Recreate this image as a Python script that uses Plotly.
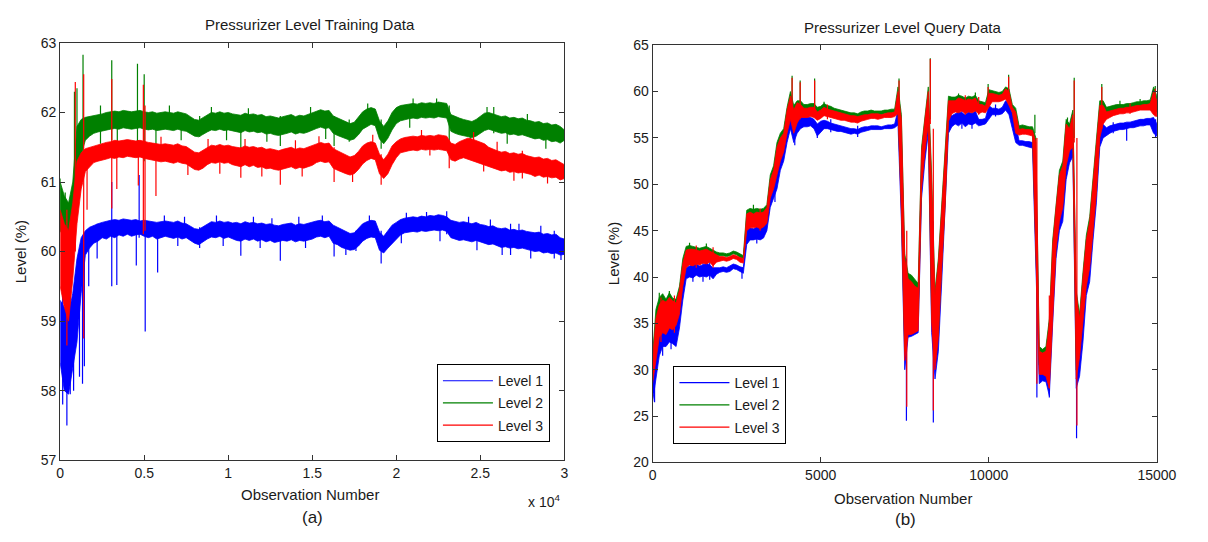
import plotly.graph_objects as go

# ---------------- data: (a) training data, envelope of each level every 250 observations -------------
train_obs = list(range(0, 30001, 250))

L1_lo = [58.40, 58.00, 57.95, 58.30, 58.70, 59.40, 59.95, 60.05, 60.12, 60.15,
         60.20, 60.18, 60.22, 60.20, 60.24, 60.22, 60.25, 60.22, 60.24, 60.25,
         60.22, 60.20, 60.22, 60.18, 60.20, 60.22, 60.20, 60.19, 60.21, 60.18,
         60.20, 60.16, 60.12, 60.10, 60.14, 60.18, 60.21, 60.20, 60.22, 60.19,
         60.21, 60.18, 60.16, 60.15, 60.18, 60.16, 60.18, 60.15, 60.17, 60.14,
         60.16, 60.13, 60.14, 60.16, 60.15, 60.17, 60.14, 60.16, 60.15, 60.17,
         60.18, 60.21, 60.22, 60.20, 60.22, 60.12, 60.10, 60.06, 60.04, 60.02,
         60.03, 60.08, 60.15, 60.19, 60.21, 60.20, 60.02, 59.98, 60.05, 60.12,
         60.18, 60.24, 60.27, 60.28, 60.29, 60.28, 60.30, 60.29, 60.30, 60.31,
         60.30, 60.31, 60.29, 60.20, 60.18, 60.16, 60.17, 60.15, 60.14, 60.16,
         60.13, 60.12, 60.10, 60.11, 60.08, 60.06, 60.07, 60.05, 60.06, 60.04,
         60.05, 60.03, 60.02, 60.00, 60.01, 59.98, 59.99, 59.97, 59.98, 59.95,
         59.96]
L1_hi = [59.30, 59.20, 59.10, 59.40, 59.90, 60.20, 60.30, 60.35, 60.38, 60.40,
         60.42, 60.44, 60.45, 60.46, 60.45, 60.47, 60.46, 60.45, 60.46, 60.44,
         60.45, 60.44, 60.43, 60.42, 60.43, 60.44, 60.43, 60.42, 60.44, 60.41,
         60.40, 60.36, 60.33, 60.32, 60.36, 60.40, 60.43, 60.42, 60.44, 60.42,
         60.43, 60.41, 60.42, 60.40, 60.43, 60.41, 60.42, 60.40, 60.41, 60.39,
         60.40, 60.38, 60.37, 60.39, 60.40, 60.41, 60.38, 60.40, 60.39, 60.41,
         60.42, 60.44, 60.45, 60.43, 60.44, 60.38, 60.35, 60.32, 60.28, 60.26,
         60.27, 60.33, 60.40, 60.43, 60.45, 60.44, 60.28, 60.22, 60.30, 60.38,
         60.42, 60.46, 60.48, 60.49, 60.50, 60.49, 60.51, 60.50, 60.52, 60.51,
         60.53, 60.52, 60.50, 60.45, 60.44, 60.42, 60.43, 60.41, 60.40, 60.42,
         60.39, 60.38, 60.36, 60.37, 60.34, 60.33, 60.34, 60.31, 60.32, 60.30,
         60.31, 60.29, 60.28, 60.27, 60.28, 60.25, 60.26, 60.24, 60.25, 60.20,
         60.18]
L2_lo = [60.30, 60.20, 60.20, 60.40, 60.90, 61.40, 61.60, 61.66, 61.70, 61.72,
         61.73, 61.75, 61.76, 61.77, 61.76, 61.78, 61.77, 61.76, 61.77, 61.78,
         61.76, 61.75, 61.76, 61.74, 61.75, 61.76, 61.75, 61.74, 61.76, 61.74,
         61.73, 61.70, 61.66, 61.65, 61.68, 61.72, 61.75, 61.74, 61.76, 61.74,
         61.75, 61.73, 61.72, 61.71, 61.74, 61.72, 61.73, 61.71, 61.72, 61.69,
         61.70, 61.68, 61.67, 61.69, 61.70, 61.72, 61.69, 61.71, 61.70, 61.72,
         61.74, 61.77, 61.79, 61.77, 61.78, 61.70, 61.67, 61.64, 61.62, 61.60,
         61.62, 61.68, 61.76, 61.80, 61.83, 61.81, 61.62, 61.55, 61.63, 61.75,
         61.84, 61.88, 61.90, 61.91, 61.92, 61.91, 61.93, 61.92, 61.93, 61.92,
         61.94, 61.93, 61.92, 61.73, 61.70, 61.68, 61.67, 61.65, 61.64, 61.66,
         61.70, 61.74, 61.76, 61.74, 61.72, 61.70, 61.71, 61.68, 61.69, 61.67,
         61.68, 61.65, 61.64, 61.62, 61.63, 61.60, 61.61, 61.58, 61.59, 61.56,
         61.60]
L2_hi = [61.00, 60.80, 60.70, 61.00, 61.80, 61.90, 61.93, 61.94, 61.96, 61.97,
         61.98, 62.00, 62.01, 62.02, 62.01, 62.03, 62.02, 62.01, 62.02, 62.03,
         62.01, 62.00, 62.01, 61.99, 62.00, 62.01, 62.00, 61.99, 62.01, 61.99,
         61.98, 61.94, 61.90, 61.89, 61.93, 61.97, 62.00, 61.99, 62.01, 61.99,
         62.00, 61.98, 61.97, 61.96, 61.99, 61.97, 61.98, 61.96, 61.97, 61.94,
         61.95, 61.93, 61.92, 61.94, 61.95, 61.97, 61.94, 61.96, 61.95, 61.97,
         61.99, 62.02, 62.04, 62.02, 62.03, 61.95, 61.92, 61.89, 61.86, 61.84,
         61.86, 61.93, 62.01, 62.05, 62.07, 62.05, 61.88, 61.80, 61.88, 62.00,
         62.07, 62.10, 62.11, 62.12, 62.13, 62.12, 62.14, 62.13, 62.14, 62.13,
         62.15, 62.14, 62.13, 61.97, 61.94, 61.92, 61.90, 61.88, 61.87, 61.90,
         61.95, 61.99, 62.00, 61.98, 61.96, 61.94, 61.95, 61.92, 61.93, 61.91,
         61.92, 61.89, 61.88, 61.86, 61.87, 61.84, 61.85, 61.82, 61.83, 61.80,
         61.75]
L3_lo = [59.50, 59.20, 59.00, 59.60, 60.40, 60.90, 61.15, 61.22, 61.28, 61.30,
         61.32, 61.33, 61.35, 61.34, 61.36, 61.35, 61.37, 61.36, 61.35, 61.36,
         61.34, 61.33, 61.32, 61.30, 61.29, 61.30, 61.28, 61.27, 61.29, 61.27,
         61.26, 61.22, 61.18, 61.17, 61.20, 61.25, 61.28, 61.27, 61.29, 61.27,
         61.28, 61.25, 61.23, 61.22, 61.25, 61.22, 61.24, 61.21, 61.22, 61.19,
         61.20, 61.18, 61.17, 61.19, 61.20, 61.22, 61.19, 61.21, 61.20, 61.22,
         61.24, 61.28, 61.30, 61.28, 61.29, 61.20, 61.17, 61.14, 61.12, 61.10,
         61.12, 61.18, 61.26, 61.31, 61.34, 61.32, 61.12, 61.05, 61.12, 61.25,
         61.35, 61.42, 61.44, 61.45, 61.46, 61.45, 61.47, 61.46, 61.47, 61.46,
         61.47, 61.46, 61.45, 61.32, 61.30, 61.33, 61.35, 61.33, 61.30, 61.28,
         61.27, 61.25, 61.22, 61.20, 61.18, 61.16, 61.17, 61.14, 61.15, 61.13,
         61.14, 61.12, 61.11, 61.08, 61.10, 61.07, 61.08, 61.06, 61.07, 61.03,
         61.05]
L3_hi = [60.60, 60.40, 60.30, 60.70, 61.30, 61.42, 61.48, 61.50, 61.52, 61.54,
         61.55, 61.57, 61.58, 61.60, 61.59, 61.60, 61.61, 61.60, 61.59, 61.60,
         61.58, 61.57, 61.56, 61.55, 61.54, 61.55, 61.54, 61.53, 61.55, 61.52,
         61.51, 61.47, 61.43, 61.42, 61.46, 61.50, 61.53, 61.52, 61.54, 61.52,
         61.53, 61.51, 61.50, 61.49, 61.52, 61.50, 61.51, 61.49, 61.50, 61.47,
         61.48, 61.46, 61.45, 61.47, 61.48, 61.50, 61.47, 61.49, 61.48, 61.50,
         61.52, 61.55, 61.57, 61.55, 61.56, 61.48, 61.45, 61.42, 61.38, 61.36,
         61.38, 61.44, 61.52, 61.56, 61.58, 61.56, 61.40, 61.32, 61.40, 61.52,
         61.58, 61.62, 61.64, 61.65, 61.66, 61.65, 61.67, 61.66, 61.67, 61.66,
         61.68, 61.67, 61.66, 61.56, 61.54, 61.58, 61.61, 61.63, 61.62, 61.60,
         61.58, 61.55, 61.50, 61.47, 61.45, 61.43, 61.44, 61.41, 61.42, 61.40,
         61.41, 61.38, 61.37, 61.35, 61.36, 61.33, 61.34, 61.31, 61.32, 61.28,
         61.25]

# isolated spikes in the training data: observation, low, high
L1_spk_obs = [150, 400, 600, 800, 1150, 1330, 1440, 1700, 2200, 3070, 3370, 4530, 4700, 5060, 5800,
              8300, 10750, 13100, 16300, 17600, 19100, 23000, 26800, 29400,
              6200, 7400, 9300, 11500, 12600, 14200, 15600, 18400, 20600, 21800, 24300, 25600, 27300, 28600,
              7000, 9700, 11900, 14600, 17000, 20300, 22600, 24800, 26300, 28000, 29800]
L1_spk_lo = [57.8, 57.5, 57.95, 58.0, 58.2, 58.1, 58.35, 59.5, 59.9, 59.5, 59.52, 59.8, 60.2, 58.85, 59.7,
             60.05, 59.94, 59.87, 59.93, 60.01, 59.83, 60.25, 59.95, 59.9,
             60.30, 60.30, 60.30, 60.30, 60.25, 60.30, 60.30, 60.30, 60.35, 60.35, 60.30, 60.25, 60.20, 60.15,
             60.08, 60.08, 60.05, 60.05, 59.95, 60.12, 60.15, 60.02, 59.95, 59.90, 59.88]
L1_spk_hi = [59.4, 59.0, 59.6, 59.3, 60.0, 60.1, 60.2, 60.3, 60.4, 61.0, 60.4, 60.4, 61.1, 60.4, 60.4,
             60.35, 60.4, 60.35, 60.35, 60.3, 60.3, 60.58, 60.4, 60.3,
             60.52, 60.50, 60.52, 60.50, 60.48, 60.50, 60.52, 60.52, 60.56, 60.57, 60.50, 60.46, 60.40, 60.37,
             60.30, 60.30, 60.30, 60.30, 60.20, 60.35, 60.40, 60.30, 60.20, 60.15, 60.10]
L2_spk_obs = [0, 300, 850, 1000, 1360, 2400, 3070, 3400, 4600, 5000, 5700, 8300, 10750, 13100, 16300,
              17200, 19100, 23150, 25800,
              6500, 9000, 11200, 14900, 18300, 21000, 22400, 25400, 27800,
              7200, 9900, 12300, 15800, 20800, 24400, 26600, 28900]
L2_spk_lo = [60.3, 60.2, 60.9, 61.0, 61.3, 61.55, 61.6, 61.5, 61.5, 61.3, 61.45, 61.65, 61.48, 61.52, 61.52,
             61.58, 61.48, 61.6, 61.7,
             61.90, 61.90, 61.90, 61.90, 61.95, 62.00, 62.00, 61.90, 61.80,
             61.60, 61.60, 61.58, 61.62, 61.78, 61.55, 61.55, 61.48]
L2_spk_hi = [61.05, 60.85, 62.3, 62.35, 62.83, 62.1, 62.75, 61.95, 62.7, 62.55, 61.95, 61.95, 61.95, 61.95, 61.95,
             61.9, 61.9, 62.1, 62.08,
             62.10, 62.08, 62.06, 62.08, 62.13, 62.20, 62.20, 62.08, 61.98,
             61.85, 61.85, 61.80, 61.85, 62.00, 61.75, 61.78, 61.70]
L3_spk_obs = [400, 900, 1400, 1600, 3070, 3370, 4650, 4950, 5050, 5700, 10750, 13100, 16300, 19100, 23150, 27500,
              6000, 8800, 11000, 14000, 15400, 18600, 21500, 24600, 26000,
              7600, 9500, 12000, 14400, 17400, 22000, 25200, 27000, 29000]
L3_spk_lo = [58.65, 60.0, 58.75, 60.6, 60.62, 60.9, 60.95, 60.25, 60.3, 60.8, 61.06, 60.96, 61.0, 60.96, 61.2, 61.05,
             61.45, 61.45, 61.45, 61.42, 61.48, 61.50, 61.60, 61.55, 61.40,
             61.10, 61.12, 61.08, 61.08, 61.00, 61.38, 61.15, 61.02, 60.98]
L3_spk_hi = [60.6, 62.44, 62.55, 61.45, 62.48, 61.5, 61.6, 62.4, 62.1, 61.5, 61.5, 61.45, 61.5, 61.4, 61.6, 61.45,
             61.65, 61.62, 61.62, 61.60, 61.66, 61.68, 61.75, 61.72, 61.58,
             61.35, 61.35, 61.30, 61.30, 61.20, 61.55, 61.35, 61.25, 61.20]

# ---------------- data: (b) query data, envelope of each level every 100 observations -------------
query_obs = list(range(0, 15001, 100))

Q1_lo = [26.5, 29.0, 31.5, 32.5, 32.5, 33.0, 32.8, 32.5, 34.5, 37.5,
         39.8, 40.0, 39.9, 40.2, 40.0, 40.1, 40.0, 40.2, 39.8, 40.3,
         40.5, 40.6, 40.5, 40.6, 40.9, 40.8, 40.6, 40.4, 43.5, 44.0,
         44.0, 44.1, 44.0, 44.2, 45.0, 47.5, 48.5, 49.5, 51.5, 52.5,
         54.5, 56.0, 54.5, 55.5, 56.0, 56.2, 56.2, 56.3, 56.0, 55.2,
         55.6, 56.0, 56.0, 55.9, 55.8, 55.7, 55.7, 55.6, 55.5, 55.4,
         55.5, 55.4, 55.6, 55.7, 55.8, 55.9, 55.9, 55.9, 55.9, 56.0,
         56.0, 56.0, 56.1, 56.4, 46.0, 30.0, 33.5, 33.6, 33.8, 34.0,
         48.5, 52.5, 55.5, 34.0, 29.0, 32.0, 39.5, 46.5, 55.5, 56.2,
         56.5, 56.3, 56.6, 56.2, 56.5, 56.4, 56.6, 56.3, 56.4, 56.5,
         57.0, 57.5, 57.5, 57.5, 57.6, 58.0, 57.5, 56.0, 54.5, 54.2,
         54.2, 54.1, 54.0, 53.9, 40.0, 28.5, 28.8, 28.7, 27.2, 35.0,
         42.0, 45.0, 46.0, 50.5, 52.3, 53.0, 28.0, 29.3, 33.0, 38.0,
         39.5, 44.0, 48.0, 54.0, 55.0, 55.2, 55.5, 55.7, 55.8, 55.9,
         55.9, 56.0, 56.1, 56.1, 56.2, 56.3, 56.3, 56.4, 56.4, 55.5,
         55.2]
Q1_hi = [29.5, 33.0, 34.5, 35.0, 35.3, 35.5, 35.6, 35.0, 37.0, 40.0,
         41.0, 41.2, 41.3, 41.4, 41.2, 41.3, 41.5, 41.3, 41.0, 41.0,
         41.0, 41.1, 41.0, 41.2, 41.4, 41.3, 41.1, 41.0, 45.2, 45.3,
         45.2, 45.4, 45.3, 45.4, 46.5, 49.5, 50.2, 52.0, 53.5, 54.5,
         56.5, 57.5, 56.5, 57.0, 57.2, 57.2, 57.2, 57.2, 57.0, 56.5,
         56.8, 56.9, 56.8, 56.6, 56.5, 56.4, 56.3, 56.2, 56.1, 56.0,
         56.0, 55.9, 56.1, 56.2, 56.2, 56.3, 56.3, 56.3, 56.2, 56.3,
         56.4, 56.4, 56.5, 58.0, 55.0, 41.0, 35.8, 35.5, 35.6, 36.0,
         52.5, 55.5, 58.5, 46.0, 34.0, 40.0, 45.5, 52.0, 57.5, 57.4,
         57.6, 57.8, 57.7, 57.5, 57.8, 57.6, 57.9, 57.0, 57.0, 57.1,
         58.5, 58.2, 58.2, 58.1, 58.3, 59.0, 58.8, 57.5, 56.5, 54.7,
         54.7, 54.6, 54.6, 54.5, 52.0, 30.5, 30.2, 30.3, 33.0, 42.0,
         46.0, 49.0, 50.5, 54.5, 55.0, 56.0, 36.0, 33.5, 38.0, 42.0,
         44.5, 48.0, 52.0, 56.8, 56.5, 56.1, 56.3, 56.4, 56.5, 56.6,
         56.6, 56.7, 56.7, 56.8, 56.9, 57.0, 57.0, 57.1, 57.1, 57.2,
         56.5]
Q2_lo = [29.0, 32.0, 34.5, 35.0, 35.0, 35.5, 35.2, 35.5, 36.8, 39.5,
         41.8, 42.0, 42.0, 42.2, 42.1, 42.2, 42.3, 42.3, 42.2, 42.3,
         42.3, 42.3, 42.2, 42.3, 42.5, 42.4, 42.1, 42.0, 45.5, 45.8,
         45.8, 45.9, 45.8, 45.9, 46.2, 49.0, 50.0, 51.5, 53.0, 54.0,
         56.0, 57.5, 56.0, 57.0, 57.6, 57.9, 57.9, 58.0, 57.8, 57.5,
         57.7, 57.9, 57.8, 57.7, 57.6, 57.5, 57.4, 57.3, 57.3, 57.2,
         57.2, 57.1, 57.3, 57.4, 57.4, 57.5, 57.5, 57.5, 57.5, 57.6,
         57.6, 57.6, 57.7, 58.0, 48.0, 32.0, 35.5, 35.5, 36.0, 35.8,
         50.0, 54.0, 57.0, 36.0, 31.0, 34.0, 41.5, 48.0, 57.3, 58.0,
         58.2, 58.1, 58.3, 58.0, 58.2, 58.1, 58.3, 58.0, 58.2, 58.1,
         58.6, 59.2, 59.2, 59.2, 59.3, 59.5, 58.8, 58.0, 56.0, 55.8,
         55.8, 55.8, 55.7, 55.6, 43.0, 30.5, 30.8, 31.0, 29.0, 37.0,
         43.5, 46.5, 48.0, 52.5, 54.0, 54.5, 30.0, 32.0, 35.5, 39.5,
         41.5, 45.5, 49.5, 55.5, 57.0, 57.4, 57.6, 57.8, 57.9, 58.0,
         58.0, 58.1, 58.1, 58.2, 58.3, 58.4, 58.4, 58.4, 58.5, 58.0,
         57.8]
Q2_hi = [31.5, 36.5, 37.8, 38.2, 37.6, 38.3, 37.7, 37.6, 39.0, 42.0,
         43.3, 43.4, 43.3, 43.2, 43.1, 43.2, 43.3, 43.1, 42.9, 42.7,
         42.6, 42.6, 42.5, 42.6, 42.8, 42.7, 42.5, 42.3, 47.2, 47.4,
         47.3, 47.4, 47.3, 47.4, 47.8, 51.0, 52.0, 54.5, 55.5, 56.0,
         58.3, 60.0, 58.5, 59.0, 59.0, 58.6, 58.6, 58.7, 58.7, 58.3,
         58.4, 58.7, 58.5, 58.4, 58.2, 58.1, 58.0, 57.9, 57.8, 57.7,
         57.7, 57.6, 57.8, 57.9, 57.9, 58.0, 57.9, 57.9, 57.9, 58.0,
         58.0, 58.1, 58.1, 60.5, 57.5, 42.5, 40.4, 40.2, 39.8, 39.3,
         54.0, 57.5, 60.5, 51.0, 38.5, 42.0, 47.5, 53.5, 59.5, 59.4,
         59.4, 59.6, 59.5, 59.3, 59.5, 59.4, 59.6, 59.0, 58.9, 58.8,
         60.2, 60.1, 60.0, 59.9, 60.0, 60.5, 60.3, 58.6, 58.2, 56.3,
         56.4, 56.3, 56.2, 56.2, 55.0, 32.5, 32.2, 32.5, 35.5, 44.0,
         48.0, 51.5, 52.5, 57.0, 56.5, 58.0, 38.5, 36.0, 40.5, 44.5,
         46.5, 50.5, 54.5, 59.0, 59.0, 58.3, 58.4, 58.5, 58.6, 58.6,
         58.6, 58.7, 58.7, 58.8, 58.9, 58.9, 59.0, 59.0, 59.1, 60.5,
         59.5]
Q3_lo = [28.5, 31.0, 33.5, 34.0, 33.8, 34.5, 34.3, 34.8, 36.0, 39.0,
         41.0, 41.3, 41.2, 41.4, 41.3, 41.5, 41.4, 41.6, 41.2, 41.6,
         41.7, 41.8, 41.7, 41.8, 42.0, 41.9, 41.6, 41.5, 45.0, 45.3,
         45.3, 45.4, 45.2, 45.4, 45.8, 48.5, 49.5, 51.0, 52.5, 53.5,
         55.5, 57.0, 55.5, 56.6, 57.2, 57.2, 57.2, 57.3, 57.2, 56.9,
         57.1, 57.4, 57.3, 57.2, 57.1, 57.0, 56.9, 56.9, 56.8, 56.7,
         56.7, 56.6, 56.8, 56.9, 57.0, 57.1, 57.1, 57.0, 57.1, 57.2,
         57.2, 57.2, 57.3, 57.6, 47.0, 31.0, 33.8, 33.8, 34.0, 34.2,
         49.5, 53.5, 56.5, 35.0, 30.0, 33.5, 41.0, 47.5, 56.8, 57.6,
         57.8, 57.7, 57.9, 57.6, 57.8, 57.7, 57.9, 57.6, 57.8, 57.7,
         58.3, 58.9, 58.9, 58.9, 59.0, 59.2, 58.5, 57.7, 55.5, 55.3,
         55.4, 55.4, 55.3, 55.2, 42.0, 29.5, 29.5, 29.3, 28.0, 36.0,
         43.0, 46.0, 47.5, 52.0, 53.6, 54.0, 29.0, 31.4, 35.0, 39.0,
         41.0, 45.0, 49.0, 55.0, 56.5, 57.0, 57.2, 57.4, 57.5, 57.6,
         57.6, 57.7, 57.7, 57.8, 57.9, 58.0, 58.0, 58.0, 58.0, 57.5,
         57.3]
Q3_hi = [31.0, 35.5, 37.0, 37.5, 37.3, 37.8, 37.4, 37.2, 38.6, 41.5,
         42.9, 43.0, 43.0, 42.9, 42.8, 42.9, 43.0, 42.8, 42.6, 42.4,
         42.2, 42.2, 42.1, 42.2, 42.4, 42.3, 42.1, 42.0, 46.8, 47.0,
         46.8, 47.0, 46.9, 47.0, 47.5, 50.5, 51.5, 54.0, 55.0, 55.5,
         58.0, 59.5, 58.0, 58.8, 58.6, 58.2, 58.2, 58.3, 58.3, 57.8,
         58.0, 58.3, 58.1, 58.0, 57.9, 57.8, 57.7, 57.6, 57.5, 57.4,
         57.4, 57.3, 57.4, 57.5, 57.5, 57.6, 57.6, 57.6, 57.5, 57.6,
         57.7, 57.7, 57.8, 60.0, 57.0, 42.0, 39.8, 39.5, 39.0, 38.8,
         53.5, 57.0, 60.0, 50.0, 38.0, 41.5, 47.0, 53.0, 59.0, 59.0,
         59.0, 59.3, 59.2, 59.0, 59.2, 59.1, 59.3, 58.6, 58.6, 58.4,
         59.8, 59.8, 59.7, 59.6, 59.7, 60.3, 60.0, 58.3, 57.8, 55.9,
         56.0, 55.9, 55.9, 55.8, 54.5, 32.0, 31.8, 32.0, 35.0, 43.5,
         47.5, 51.0, 52.0, 56.5, 56.0, 57.5, 38.0, 35.5, 40.0, 44.0,
         46.0, 50.0, 54.0, 58.5, 58.5, 57.8, 57.9, 58.0, 58.1, 58.2,
         58.2, 58.3, 58.3, 58.4, 58.5, 58.5, 58.6, 58.6, 58.7, 60.0,
         59.0]

# isolated spikes in the query data: observation, low, high
Q1_spk_obs = [60, 1500, 2660, 3640, 4230, 4900, 7550, 8350, 11430, 11800, 12610, 14100, 14960,
              300, 550, 1200, 1700, 3100, 5300, 6100, 9200, 9500, 10200, 13700]
Q1_spk_lo = [26.5, 39.5, 39.8, 48.1, 54.2, 55.0, 24.5, 24.3, 27.0, 27.0, 22.6, 54.7, 55.1,
             31.5, 32.2, 39.5, 39.7, 43.6, 55.6, 55.1, 56.0, 56.0, 57.3, 55.5]
Q1_spk_hi = [31.0, 41.5, 41.0, 50.0, 56.5, 56.5, 42.0, 46.0, 45.0, 35.0, 38.0, 56.5, 57.0,
             35.5, 36.0, 41.8, 41.6, 45.6, 57.0, 56.3, 58.0, 57.9, 58.6, 56.7]
Q2_spk_obs = [4150, 4390, 4820, 7330, 8260, 9980, 10590, 11370, 12340, 12540, 13360, 14950,
              200, 500, 1100, 1600, 3000, 5100, 9100, 9600, 13900, 14500]
Q2_spk_lo = [57.5, 57.5, 57.8, 58.0, 57.0, 59.0, 59.5, 55.5, 54.0, 55.0, 56.5, 57.5,
             34.5, 35.5, 42.0, 42.3, 46.0, 58.0, 58.5, 58.5, 58.2, 58.4]
Q2_spk_hi = [61.7, 61.2, 61.4, 61.4, 63.6, 60.8, 61.8, 57.5, 57.2, 61.5, 60.8, 60.6,
             38.3, 38.5, 43.7, 43.6, 47.8, 58.9, 59.8, 59.9, 59.0, 59.2]
Q3_spk_obs = [4150, 4390, 4820, 7330, 7560, 8260, 8350, 9980, 10590, 11430, 11800, 12540, 12620, 13360, 14950,
              250, 650, 1300, 1800, 3200, 5200, 9300, 9700, 14200]
Q3_spk_lo = [57.0, 57.0, 57.5, 57.5, 26.0, 56.5, 25.6, 58.5, 59.2, 28.5, 28.0, 54.5, 24.0, 56.0, 57.3,
             33.0, 34.0, 41.0, 41.0, 45.0, 57.0, 57.5, 57.5, 57.6]
Q3_spk_hi = [61.5, 61.0, 61.2, 61.2, 45.0, 63.5, 56.0, 60.5, 61.6, 55.0, 38.0, 61.2, 55.0, 60.5, 60.3,
             37.8, 38.0, 43.4, 43.2, 47.4, 58.6, 59.6, 59.4, 58.7]

level_names = ["Level 1", "Level 2", "Level 3"]
train_xticks = [0, 5000, 10000, 15000, 20000, 25000, 30000]
train_xtick_text = ["0", "0.5", "1", "1.5", "2", "2.5", "3"]
query_xticks = [0, 5000, 10000, 15000]
query_xtick_text = ["0", "5000", "10000", "15000"]

# ---------------- styling -------------
W, H = 1208, 542
FONT = "Liberation Sans, Arial, Helvetica, sans-serif"
TXT = "#1a1a1a"
COLORS = ["#0000ff", "#008000", "#ff0000"]


def px(x):
    return x / W


def py(y):
    return 1 - y / H


def band(obs, lo, hi, color, xa, ya):
    return go.Scatter(x=obs + obs[::-1], y=hi + lo[::-1], mode="lines", fill="toself",
                      fillcolor=color, line=dict(color=color, width=0.8),
                      hoverinfo="skip", showlegend=False, xaxis=xa, yaxis=ya)


def spikes(obs, lo, hi, color, xa, ya):
    xs, ys = [], []
    for o, a, b in zip(obs, lo, hi):
        xs += [o, o, None]
        ys += [a, b, None]
    return go.Scatter(x=xs, y=ys, mode="lines", line=dict(color=color, width=1.2),
                      hoverinfo="skip", showlegend=False, xaxis=xa, yaxis=ya, connectgaps=False)


fig = go.Figure()

train = [(L1_lo, L1_hi, L1_spk_obs, L1_spk_lo, L1_spk_hi),
         (L2_lo, L2_hi, L2_spk_obs, L2_spk_lo, L2_spk_hi),
         (L3_lo, L3_hi, L3_spk_obs, L3_spk_lo, L3_spk_hi)]
query = [(Q1_lo, Q1_hi, Q1_spk_obs, Q1_spk_lo, Q1_spk_hi),
         (Q2_lo, Q2_hi, Q2_spk_obs, Q2_spk_lo, Q2_spk_hi),
         (Q3_lo, Q3_hi, Q3_spk_obs, Q3_spk_lo, Q3_spk_hi)]

for (lo, hi, so, sl, sh), c in zip(train, COLORS):
    fig.add_trace(band(train_obs, lo, hi, c, "x", "y"))
    fig.add_trace(spikes(so, sl, sh, c, "x", "y"))
for (lo, hi, so, sl, sh), c in zip(query, COLORS):
    fig.add_trace(band(query_obs, lo, hi, c, "x2", "y2"))
    fig.add_trace(spikes(so, sl, sh, c, "x2", "y2"))

# legend entries
for i, (name, c) in enumerate(zip(level_names, COLORS)):
    fig.add_trace(go.Scatter(x=[None], y=[None], mode="lines", name=name,
                             line=dict(color=c, width=1.2), xaxis="x", yaxis="y",
                             legend="legend", legendgroup="a%d" % i))
    fig.add_trace(go.Scatter(x=[None], y=[None], mode="lines", name=name,
                             line=dict(color=c, width=1.2), xaxis="x2", yaxis="y2",
                             legend="legend2", legendgroup="b%d" % i))

axis_common = dict(showline=True, linecolor="#333333", linewidth=1, mirror="ticks",
                   ticks="inside", ticklen=5, tickcolor="#333333", showgrid=False,
                   zeroline=False, tickfont=dict(family=FONT, size=14, color=TXT))

legend_common = dict(bgcolor="white", bordercolor="black", borderwidth=1,
                     font=dict(family=FONT, size=14, color=TXT), tracegroupgap=1,
                     itemwidth=50, yanchor="top")

fig.update_layout(
    width=W, height=H,
    margin=dict(l=0, r=0, t=0, b=0),
    paper_bgcolor="white", plot_bgcolor="white",
    font=dict(family=FONT, size=14, color=TXT),
    xaxis=dict(domain=[px(57.3), px(571.7)], range=[0, 30000], tickvals=train_xticks,
               ticktext=train_xtick_text, anchor="y", **axis_common),
    yaxis=dict(domain=[py(466), py(36)], range=[57, 63], dtick=1, anchor="x", **axis_common),
    xaxis2=dict(domain=[px(661.7), px(1176.3)], range=[0, 15000], tickvals=query_xticks,
                ticktext=query_xtick_text, anchor="y2", **axis_common),
    yaxis2=dict(domain=[py(468.3), py(38.3)], range=[20, 65], dtick=5, anchor="x2", **axis_common),
    legend=dict(x=px(557), y=py(367), xanchor="right", **legend_common),
    legend2=dict(x=px(683), y=py(369), xanchor="left", **legend_common),
    showlegend=True,
)

ann = [
    dict(text="Pressurizer Level Training Data", x=px(312), y=py(17), size=15),
    dict(text="Pressurizer Level Query Data", x=px(917), y=py(20), size=15),
    dict(text="Observation Number", x=px(312), y=py(501), size=15),
    dict(text="Observation Number", x=px(917), y=py(505), size=15),
    dict(text="(a)", x=px(315), y=py(525), size=17),
    dict(text="(b)", x=px(920), y=py(527), size=17),
    dict(text="x 10<sup>4</sup>", x=px(551), y=py(508), size=14),
]
for a in ann:
    fig.add_annotation(text=a["text"], x=a["x"], y=a["y"], xref="paper", yref="paper",
                       xanchor="center", yanchor="middle", showarrow=False,
                       font=dict(family=FONT, size=a["size"], color=TXT))
for xx, yy in [(17, 251), (622, 253)]:
    fig.add_annotation(text="Level (%)", x=px(xx), y=py(yy), xref="paper", yref="paper",
                       xanchor="center", yanchor="middle", showarrow=False, textangle=-90,
                       font=dict(family=FONT, size=15, color=TXT))

fig.write_html("out.html")
